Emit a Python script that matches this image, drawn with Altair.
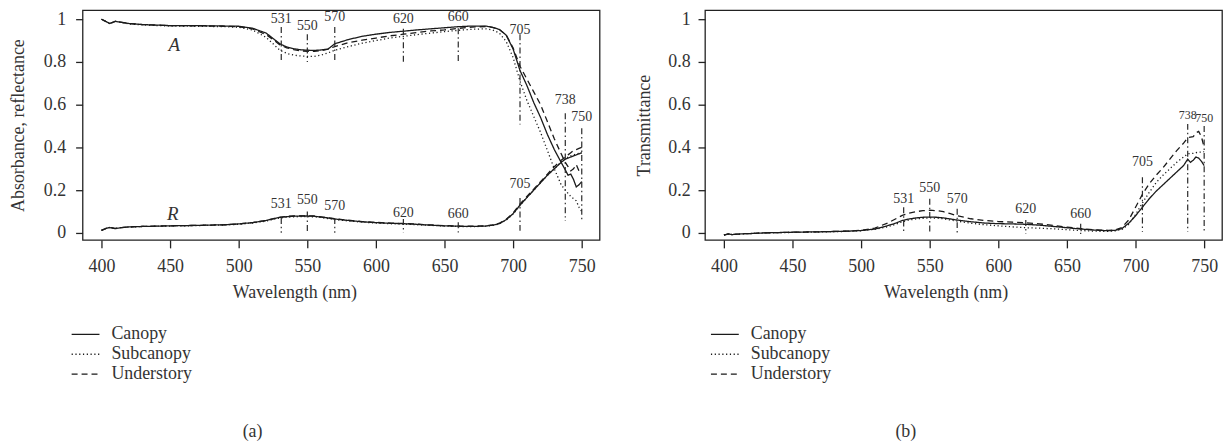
import altair as alt
import pandas as pd

FONT = "Liberation Serif"

wavelength = [400, 403, 406, 410, 415, 420, 430, 450, 470, 490, 500, 510, 520, 525, 530, 535, 540, 545,
              550, 555, 560, 565, 570, 580, 590, 600, 610, 620, 630, 640, 650, 660, 670, 680, 685, 690,
              695, 700, 705, 710, 715, 720, 725, 730, 735, 738, 740, 742, 744, 746, 748, 750]

series_names = ["Canopy", "Subcanopy", "Understory"]

# Panel (a): absorbance A
A_canopy = [1.000, 0.990, 0.980, 0.990, 0.985, 0.980, 0.975, 0.970, 0.970, 0.968, 0.967, 0.958, 0.935, 0.910,
            0.885, 0.870, 0.862, 0.857, 0.855, 0.854, 0.856, 0.860, 0.885, 0.905, 0.920, 0.930, 0.938, 0.944,
            0.950, 0.955, 0.960, 0.965, 0.968, 0.968, 0.962, 0.952, 0.925, 0.860, 0.760, 0.690, 0.610, 0.540,
            0.460, 0.390, 0.330, 0.295, 0.270, 0.275, 0.250, 0.215, 0.225, 0.240]
A_sub = [1.000, 0.990, 0.980, 0.990, 0.985, 0.978, 0.973, 0.968, 0.967, 0.965, 0.962, 0.950, 0.915, 0.885,
         0.855, 0.840, 0.832, 0.828, 0.826, 0.826, 0.832, 0.842, 0.855, 0.872, 0.888, 0.900, 0.912, 0.920,
         0.928, 0.935, 0.942, 0.948, 0.953, 0.955, 0.950, 0.935, 0.895, 0.820, 0.710, 0.620, 0.545, 0.470,
         0.385, 0.300, 0.225, 0.200, 0.185, 0.170, 0.160, 0.150, 0.120, 0.100]
A_under = [1.000, 0.990, 0.980, 0.990, 0.985, 0.980, 0.975, 0.970, 0.969, 0.967, 0.965, 0.955, 0.928, 0.905,
           0.880, 0.866, 0.858, 0.852, 0.850, 0.850, 0.853, 0.860, 0.872, 0.890, 0.902, 0.912, 0.922, 0.930,
           0.938, 0.945, 0.950, 0.957, 0.963, 0.966, 0.962, 0.952, 0.925, 0.865, 0.780, 0.720, 0.660, 0.600,
           0.520, 0.440, 0.370, 0.330, 0.310, 0.290, 0.300, 0.320, 0.290, 0.300]

# Panel (a): reflectance R
R_canopy = [0.012, 0.020, 0.025, 0.020, 0.025, 0.028, 0.030, 0.033, 0.035, 0.038, 0.042, 0.048, 0.058, 0.066,
            0.073, 0.076, 0.078, 0.079, 0.079, 0.078, 0.074, 0.070, 0.065, 0.058, 0.052, 0.048, 0.045, 0.043,
            0.040, 0.036, 0.033, 0.031, 0.030, 0.032, 0.036, 0.043, 0.062, 0.090, 0.130, 0.165, 0.200, 0.235,
            0.270, 0.300, 0.330, 0.345, 0.350, 0.355, 0.360, 0.365, 0.370, 0.375]
R_sub = [0.012, 0.020, 0.024, 0.020, 0.025, 0.027, 0.030, 0.032, 0.034, 0.037, 0.040, 0.046, 0.055, 0.063,
         0.070, 0.073, 0.075, 0.076, 0.076, 0.075, 0.072, 0.067, 0.062, 0.056, 0.050, 0.046, 0.043, 0.041,
         0.038, 0.035, 0.032, 0.030, 0.029, 0.031, 0.035, 0.042, 0.060, 0.088, 0.128, 0.165, 0.200, 0.235,
         0.270, 0.300, 0.332, 0.348, 0.355, 0.360, 0.365, 0.370, 0.372, 0.375]
R_under = [0.012, 0.020, 0.025, 0.021, 0.025, 0.028, 0.030, 0.033, 0.035, 0.038, 0.042, 0.048, 0.058, 0.066,
           0.073, 0.077, 0.079, 0.080, 0.080, 0.079, 0.075, 0.071, 0.066, 0.059, 0.053, 0.049, 0.046, 0.044,
           0.041, 0.037, 0.034, 0.032, 0.031, 0.033, 0.037, 0.045, 0.064, 0.093, 0.135, 0.170, 0.205, 0.240,
           0.275, 0.310, 0.340, 0.355, 0.365, 0.375, 0.385, 0.390, 0.395, 0.400]

# Panel (b): transmittance
T_canopy = [-0.010, -0.005, -0.008, -0.006, -0.004, -0.003, 0.000, 0.003, 0.005, 0.008, 0.011, 0.018, 0.035,
            0.045, 0.058, 0.065, 0.070, 0.073, 0.074, 0.073, 0.070, 0.065, 0.060, 0.052, 0.046, 0.043, 0.042,
            0.040, 0.036, 0.030, 0.024, 0.018, 0.013, 0.010, 0.012, 0.020, 0.045, 0.080, 0.120, 0.160, 0.195,
            0.225, 0.255, 0.285, 0.315, 0.345, 0.330, 0.340, 0.355, 0.350, 0.335, 0.315]
T_sub = [-0.010, -0.006, -0.008, -0.006, -0.004, -0.003, 0.000, 0.002, 0.004, 0.007, 0.010, 0.017, 0.030,
         0.040, 0.052, 0.060, 0.065, 0.068, 0.070, 0.069, 0.066, 0.060, 0.055, 0.045, 0.038, 0.033, 0.028,
         0.024, 0.022, 0.019, 0.015, 0.011, 0.008, 0.007, 0.009, 0.016, 0.040, 0.085, 0.140, 0.190, 0.235,
         0.270, 0.300, 0.330, 0.355, 0.370, 0.372, 0.372, 0.375, 0.378, 0.378, 0.380]
T_under = [-0.010, -0.005, -0.008, -0.006, -0.004, -0.003, 0.000, 0.003, 0.005, 0.008, 0.012, 0.022, 0.048,
           0.065, 0.082, 0.092, 0.099, 0.104, 0.106, 0.104, 0.099, 0.090, 0.080, 0.066, 0.058, 0.053, 0.050,
           0.047, 0.042, 0.035, 0.027, 0.020, 0.014, 0.012, 0.014, 0.025, 0.060, 0.120, 0.180, 0.230, 0.270,
           0.305, 0.345, 0.385, 0.420, 0.445, 0.448, 0.450, 0.468, 0.475, 0.450, 0.400]

# Marker lines (wavelength, top, bottom, label position)
a_mark_nm = [531, 550, 570, 620, 660, 705, 738, 750]
a_mark_top = [0.963, 0.930, 0.963, 0.955, 0.958, 0.930, 0.560, 0.490]
a_mark_bot = [0.800, 0.800, 0.800, 0.800, 0.800, 0.507, 0.056, 0.056]
a_mark_lbl = [1.000, 0.970, 1.010, 1.000, 1.010, 0.950, 0.620, 0.540]

r_mark_nm = [531, 550, 570, 620, 660, 705]
r_mark_top = [0.070, 0.100, 0.070, 0.065, 0.050, 0.163]
r_mark_bot = [0.000, 0.000, 0.000, 0.000, 0.000, 0.005]
r_mark_lbl = [0.135, 0.153, 0.126, 0.093, 0.088, 0.228]

t_mark_nm = [531, 550, 570, 620, 660, 705]
t_mark_top = [0.120, 0.160, 0.113, 0.060, 0.043, 0.260]
t_mark_bot = [-0.005, -0.005, -0.005, -0.005, -0.005, 0.005]
t_mark_lbl = [0.158, 0.210, 0.158, 0.110, 0.088, 0.330]

t_mark2_nm = [738, 750]
t_mark2_top = [0.510, 0.500]
t_mark2_bot = [0.005, 0.005]
t_mark2_lbl = [0.553, 0.538]

curve_labels = ["A", "R"]
curve_label_nm = [453, 452]
curve_label_v = [0.880, 0.090]

# ---------------------------------------------------------------------------
def long_df(curve, cols):
    rows = []
    for name, vals in zip(series_names, cols):
        for w, v in zip(wavelength, vals):
            rows.append({"wl": w, "v": v, "series": name, "curve": curve + name})
    return rows

df_a = pd.DataFrame(long_df("A", [A_canopy, A_sub, A_under]) + long_df("R", [R_canopy, R_sub, R_under]))
df_b = pd.DataFrame(long_df("T", [T_canopy, T_sub, T_under]))

marks_a = pd.DataFrame({
    "nm": a_mark_nm + r_mark_nm,
    "top": a_mark_top + r_mark_top,
    "bot": a_mark_bot + r_mark_bot,
    "lbl": a_mark_lbl + r_mark_lbl,
})
marks_a["txt"] = marks_a["nm"].astype(str)
marks_b = pd.DataFrame({"nm": t_mark_nm, "top": t_mark_top, "bot": t_mark_bot, "lbl": t_mark_lbl})
marks_b["txt"] = marks_b["nm"].astype(str)
marks_b2 = pd.DataFrame({"nm": t_mark2_nm, "top": t_mark2_top, "bot": t_mark2_bot, "lbl": t_mark2_lbl})
marks_b2["txt"] = marks_b2["nm"].astype(str)
curve_df = pd.DataFrame({"nm": curve_label_nm, "v": curve_label_v, "txt": curve_labels})

XDOM = [386.2, 763.0]
YDOM = [-0.033, 1.042]
INK = "#1a1a1a"
TXT = "#333333"
FS = 18


def x_enc(title_x):
    return alt.X("wl:Q", scale=alt.Scale(domain=XDOM, nice=False, zero=False),
                 axis=alt.Axis(values=[400, 450, 500, 550, 600, 650, 700, 750], title="Wavelength (nm)",
                               titleX=title_x, grid=False))


def y_enc(title, tpad, lpad):
    return alt.Y("v:Q", scale=alt.Scale(domain=YDOM, nice=False),
                 axis=alt.Axis(values=[0, 0.2, 0.4, 0.6, 0.8, 1], title=title, grid=False,
                               titlePadding=tpad, labelPadding=lpad,
                               labelExpr="datum.value == 0 ? '0' : datum.value == 1 ? '1' : format(datum.value, '.1f')"))


def dash_enc(lx, ly):
    return alt.StrokeDash("series:N",
                          scale=alt.Scale(domain=series_names, range=[[1, 0], [1.2, 2.6], [6, 4]]),
                          legend=alt.Legend(orient="none", legendX=lx, legendY=ly, title=None,
                                            symbolType="M-1.4,0H1.4", symbolSize=400, symbolStrokeWidth=1.3,
                                            symbolStrokeColor=INK, labelFont=FONT, labelFontSize=FS,
                                            labelColor=TXT, labelOffset=15, rowPadding=0))


def panel(df, marks_list, title_y, tpad, lpad, title_x, legx, legy, sub, dx, extra=None):
    lines = alt.Chart(df).mark_line(strokeWidth=1.3, color=INK).encode(
        x=x_enc(title_x), y=y_enc(title_y, tpad, lpad), strokeDash=dash_enc(legx, legy), detail="curve:N")
    layers = [lines]
    for m, fs in marks_list:
        layers.append(alt.Chart(m).mark_rule(color="#2a2a2a", strokeWidth=1.2, strokeDash=[6, 3, 1.5, 3]).encode(
            x="nm:Q", y="top:Q", y2="bot:Q"))
        layers.append(alt.Chart(m).mark_text(font=FONT, fontSize=fs, color=TXT, baseline="middle").encode(
            x="nm:Q", y="lbl:Q", text="txt:N"))
    if extra is not None:
        layers.append(extra)
    return alt.layer(*layers).properties(
        width=520, height=231,
        title=alt.TitleParams(sub, orient="bottom", anchor="middle", frame="group", font=FONT, fontSize=FS,
                              fontWeight="normal", color=TXT, dx=dx, offset=40))


letters = alt.Chart(curve_df).mark_text(font=FONT, fontSize=19, fontStyle="italic", color=TXT).encode(
    x="nm:Q", y="v:Q", text="txt:N")

left = panel(df_a, [(marks_a, 14)], "Absorbance, reflectance", 16, 10, 213, -8, 315, "(a)", -89, extra=letters)
right = panel(df_b, [(marks_b, 14), (marks_b2, 12)], "Transmittance", 14, 8, 242, 9, 315, "(b)", -58)

chart = alt.hconcat(left, right, spacing=34).resolve_legend(strokeDash="independent").properties(
    padding={"left": 0, "top": 0, "right": 0, "bottom": 0}
).configure_view(stroke="#222222", strokeWidth=1.3).configure_axis(
    domain=False, ticks=True, tickColor="#222222", tickWidth=1.3, labelFont=FONT, labelFontSize=FS,
    labelColor=TXT, titleFont=FONT, titleFontSize=FS, titleFontWeight="normal", titleColor=TXT
).configure_axisX(tickSize=8, labelPadding=10, titlePadding=8).configure_axisY(tickSize=7)

chart.save("out.html", embed_options={"renderer": "svg", "actions": False})
